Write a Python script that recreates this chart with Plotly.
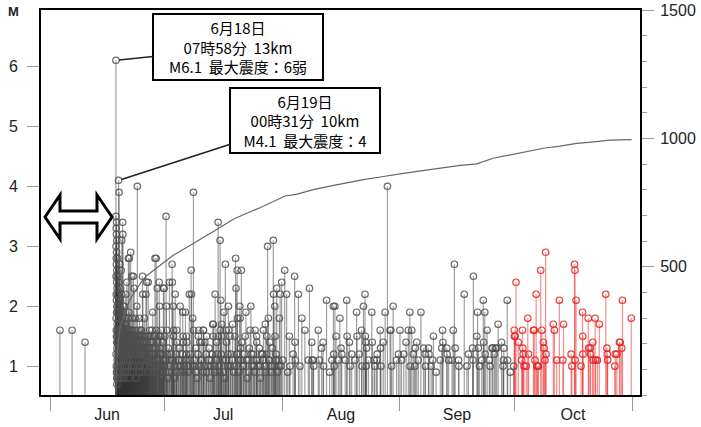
import pandas as pd
import plotly.graph_objects as go

# ---------------- data (days since 2018-06-01 00:00, magnitude) ----------------
BASE_DATE = pd.Timestamp("2018-06-01")

pre_events = [(2.6, 1.6), (5.8, 1.6), (9.2, 1.4)]
main_events = [(17.33, 6.1), (18.02, 4.1)]

jun_first_day = [
    (17.35, 3.5), (17.36, 3.0), (17.37, 2.5), (17.38, 1.8), (17.39, 1.2), (17.40, 3.3),
    (17.41, 2.8), (17.42, 2.2), (17.43, 1.6), (17.44, 1.0), (17.45, 3.2), (17.46, 2.7),
    (17.47, 2.1), (17.48, 1.5), (17.49, 0.9), (17.50, 3.4), (17.51, 2.9), (17.52, 2.4),
    (17.53, 1.9), (17.54, 1.4), (17.55, 0.8), (17.56, 3.1), (17.57, 2.6), (17.58, 2.0),
    (17.59, 1.3), (17.60, 0.7), (17.62, 2.3), (17.64, 1.7), (17.66, 1.1), (17.68, 0.9),
    (17.70, 2.5), (17.72, 1.9), (17.74, 1.4), (17.76, 1.0), (17.78, 0.8), (17.80, 2.8),
    (17.82, 2.2), (17.84, 1.6), (17.86, 1.2), (17.88, 0.9), (17.90, 2.0), (17.92, 1.5),
    (17.94, 1.1), (17.96, 0.8), (17.98, 1.8), (18.00, 1.3), (18.04, 1.0), (18.06, 2.4),
    (18.08, 1.7), (18.10, 1.2), (18.13, 0.9), (18.16, 3.9), (18.20, 2.1), (18.24, 1.5),
    (18.28, 1.1), (18.32, 0.8), (18.36, 2.7), (18.40, 1.9), (18.45, 1.3), (18.50, 1.0),
    (18.55, 2.3),
]

jun_events = [
    (18.30, 1.8), (18.34, 1.2), (18.38, 2.0), (18.42, 0.9), (18.46, 1.6), (18.50, 1.4),
    (18.54, 2.1), (18.58, 1.1), (18.62, 1.7), (18.66, 1.3), (18.70, 1.9), (18.74, 0.8),
    (18.78, 1.5), (18.82, 2.2), (18.86, 1.2), (18.90, 1.6), (18.94, 1.0), (18.98, 1.8),
    (19.02, 1.3), (19.06, 1.5), (19.10, 0.9), (19.14, 1.7), (19.18, 1.1), (19.22, 1.9),
    (19.26, 1.4), (19.30, 1.2), (19.34, 1.6), (19.38, 0.8), (19.42, 1.5), (19.46, 1.8),
    (19.50, 1.1), (19.54, 1.3), (19.58, 2.0), (19.62, 1.0), (19.66, 1.6), (19.70, 1.4),
    (19.74, 1.2), (19.78, 1.7), (19.82, 0.9), (19.86, 1.5), (19.90, 1.3), (19.94, 1.1),
    (19.98, 1.6), (20.05, 1.4), (20.10, 1.0), (20.15, 1.7), (20.20, 1.2), (20.25, 1.5),
    (20.30, 0.9), (20.35, 1.3), (20.40, 1.6), (20.45, 1.1), (20.50, 1.4), (20.55, 1.8),
    (20.60, 1.0), (20.65, 1.5), (20.70, 1.2), (20.75, 1.6), (20.80, 0.8), (20.90, 1.4),
    (20.95, 1.1), (21.05, 1.5), (21.10, 1.3), (21.15, 0.9), (21.25, 1.6), (21.30, 1.2),
    (21.40, 1.4), (21.45, 1.0), (21.55, 1.5), (21.60, 1.3), (21.70, 1.1), (21.75, 1.6),
    (21.85, 0.9), (21.95, 1.4), (22.05, 1.2), (22.15, 1.5), (22.25, 1.0), (22.30, 1.6),
    (22.45, 1.3), (22.50, 1.1), (22.55, 1.5), (22.65, 0.8), (22.70, 1.4), (22.85, 1.2),
    (22.90, 1.5), (23.00, 1.0), (23.15, 1.6), (23.20, 1.3), (23.35, 0.9), (23.40, 1.5),
    (23.55, 1.2), (23.60, 1.4), (23.75, 1.0), (23.80, 1.6), (23.95, 1.3), (24.00, 1.1),
    (24.20, 1.5), (24.25, 0.9), (24.45, 1.4), (24.50, 1.2), (24.70, 1.5), (24.75, 1.1),
    (24.90, 1.3), (25.10, 1.0), (25.15, 1.5), (25.30, 1.2), (25.50, 1.4), (25.55, 0.9),
    (25.70, 1.3), (25.90, 1.5), (25.95, 1.1), (26.10, 1.3), (26.30, 1.0), (26.50, 1.5),
    (26.70, 1.1), (26.90, 1.3), (27.10, 1.4), (27.30, 0.9), (27.50, 1.2), (27.70, 1.5),
    (28.10, 1.1), (28.30, 1.4), (28.50, 1.0), (28.90, 1.3), (29.10, 1.5), (29.30, 0.8),
    (29.50, 1.2), (29.70, 1.1),
    (18.70, 2.6), (18.85, 3.1), (19.00, 1.4), (19.10, 3.4), (19.15, 3.2), (19.30, 2.0),
    (19.50, 1.7), (19.70, 1.2), (19.90, 2.2), (20.00, 1.5), (20.20, 2.4), (20.40, 1.1),
    (20.60, 2.8), (20.75, 1.9), (20.85, 2.8), (21.00, 1.3), (21.20, 2.9), (21.35, 1.6),
    (21.50, 2.5), (21.65, 1.8), (21.80, 1.2), (21.90, 2.5), (22.00, 1.0), (22.10, 2.3),
    (22.20, 1.5), (22.40, 1.8), (22.60, 1.3), (22.80, 2.0), (22.95, 4.0), (23.10, 1.4),
    (23.30, 1.1), (23.50, 1.8), (23.70, 1.5), (23.90, 1.2), (24.10, 1.6), (24.30, 2.5),
    (24.40, 2.2), (24.60, 1.0), (24.80, 1.8), (25.00, 1.3), (25.20, 2.2), (25.40, 2.4),
    (25.60, 1.5), (25.80, 2.4), (26.00, 1.1), (26.20, 1.6), (26.40, 1.4), (26.60, 1.2),
    (26.80, 1.6), (27.00, 1.9), (27.20, 1.0), (27.40, 1.5), (27.60, 2.8), (27.80, 1.3),
    (27.90, 2.8), (28.00, 1.6), (28.20, 2.3), (28.40, 1.1), (28.60, 1.5), (28.70, 2.4),
    (28.80, 2.0), (29.00, 1.2), (29.20, 1.6), (29.40, 1.0), (29.60, 1.4), (29.80, 2.3),
    (29.90, 1.1),
]

# dense small aftershocks forming the dark mass near the bottom (read as the filled band)
jun_small_events = [
    (17.62, 1.5), (17.75, 1.6), (17.85, 1.4), (17.95, 1.5), (18.05, 1.6), (18.15, 1.4),
    (18.25, 1.5), (18.35, 1.6), (18.44, 1.4), (18.52, 1.5), (18.60, 1.2), (18.68, 1.6),
    (18.76, 1.3), (18.84, 1.5), (18.92, 1.4), (19.00, 1.2), (19.08, 1.6), (19.16, 1.3),
    (19.24, 1.5), (19.32, 1.4), (19.40, 1.2), (19.48, 1.5), (19.56, 1.6), (19.64, 1.3),
    (19.72, 1.5), (19.80, 1.4), (19.88, 1.2), (19.96, 1.5), (20.08, 1.3), (20.18, 1.6),
    (20.28, 1.4), (20.38, 1.5), (20.48, 1.2), (20.58, 1.4), (20.68, 1.5), (20.78, 1.3),
    (20.88, 1.5), (20.98, 1.4), (21.08, 1.2), (21.20, 1.5), (21.35, 1.3), (21.48, 1.5),
    (21.62, 1.4), (21.78, 1.2), (21.90, 1.5), (22.02, 1.3), (22.20, 1.4), (22.35, 1.5),
    (22.60, 1.2), (22.75, 1.4), (23.05, 1.3), (23.25, 1.5), (23.48, 1.2), (23.68, 1.4),
    (23.88, 1.3), (24.10, 1.2), (24.35, 1.4), (24.60, 1.3), (24.85, 1.2), (25.05, 1.4),
    (25.40, 1.1), (25.80, 1.3), (26.20, 1.2), (26.60, 1.0), (27.00, 1.2), (27.40, 1.1),
    (27.90, 1.0), (28.70, 1.2), (29.20, 1.0), (29.80, 0.9),
]

jul_events = [
    (30.0, 2.3), (30.2, 1.5), (30.4, 1.1), (30.5, 3.5), (30.6, 2.0), (30.7, 1.6), (30.9, 0.8),
    (31.1, 1.3), (31.4, 2.4), (31.6, 1.0), (31.8, 1.2), (32.0, 0.9), (32.1, 2.7), (32.15, 2.4),
    (32.3, 1.1), (32.4, 2.0), (32.45, 1.5), (32.5, 1.6), (32.7, 0.8), (32.9, 2.2), (33.1, 1.2),
    (33.3, 1.6), (33.35, 1.4), (33.6, 1.0), (33.9, 1.3), (34.2, 2.0), (34.4, 0.9), (34.6, 1.1),
    (34.9, 1.9), (35.0, 1.5), (35.05, 1.4), (35.3, 1.0), (35.6, 1.9), (35.8, 1.2), (35.9, 1.5),
    (36.0, 1.4), (36.3, 0.9), (36.6, 2.2), (36.8, 1.1), (37.1, 2.6), (37.2, 2.2), (37.5, 1.8),
    (37.7, 3.9), (37.75, 1.6), (38.0, 1.0), (38.3, 1.3), (38.6, 0.8), (39.0, 1.5), (39.1, 1.6),
    (39.4, 1.4), (39.7, 1.1), (39.9, 1.4), (40.2, 0.9), (40.3, 1.6), (40.35, 1.6), (40.7, 1.4),
    (41.0, 1.2), (41.2, 1.5), (41.5, 1.0), (41.8, 1.3), (42.1, 0.8), (42.4, 1.1), (42.8, 1.7),
    (42.9, 1.5), (42.95, 1.7), (43.2, 1.0), (43.4, 2.2), (43.8, 1.4), (44.0, 1.2), (44.2, 3.4),
    (44.25, 1.5), (44.5, 0.9), (44.7, 3.1), (44.75, 1.6), (44.9, 2.1), (45.1, 1.5), (45.15, 1.7),
    (45.4, 1.1), (45.7, 1.9), (45.9, 0.8), (46.1, 2.7), (46.3, 1.6), (46.4, 1.4), (46.7, 1.0),
    (46.9, 2.0), (46.95, 1.6), (47.3, 1.5), (47.6, 1.2), (48.0, 1.7), (48.3, 0.9), (48.6, 1.5),
    (48.8, 2.8), (48.9, 2.3), (49.2, 2.6), (49.25, 1.8), (49.5, 1.1), (49.9, 2.0), (49.95, 1.8),
    (50.1, 1.3), (50.3, 2.6), (50.4, 1.4), (50.7, 1.0), (51.0, 1.2), (51.3, 1.5), (51.5, 1.9),
    (51.8, 0.8), (52.1, 1.1), (52.4, 1.3), (52.6, 1.6), (52.8, 2.0), (53.1, 1.0), (53.4, 1.2),
    (53.7, 0.9), (53.9, 1.6), (54.2, 1.1), (54.3, 1.5), (54.35, 1.4), (54.7, 1.0), (55.0, 1.3),
    (55.3, 0.8), (55.6, 1.2), (56.0, 1.1), (56.1, 1.6), (56.4, 1.0), (56.6, 1.7), (56.9, 1.2),
    (57.0, 1.5), (57.2, 3.0), (57.4, 1.8), (57.6, 1.1), (57.8, 1.4), (58.1, 0.9), (58.4, 1.3),
    (58.7, 3.1), (58.75, 2.2), (59.0, 1.0), (59.1, 2.0), (59.15, 1.5), (59.4, 1.2), (59.6, 2.3),
    (59.8, 0.9), (60.0, 1.1), (60.3, 1.8), (60.5, 2.2), (60.7, 1.0), (60.9, 2.4),
]

jul_small_events = [
    (30.1, 1.0), (30.8, 1.2), (31.3, 0.9), (31.9, 1.1), (32.6, 1.0), (33.2, 0.9), (33.8, 1.1),
    (34.3, 1.0), (34.8, 1.2), (35.4, 0.9), (35.7, 1.1), (36.2, 1.0), (36.9, 1.2), (37.4, 1.0),
    (37.9, 1.1), (38.4, 0.9), (38.9, 1.2), (39.3, 1.0), (39.8, 1.1), (40.5, 1.0), (41.1, 0.9),
    (41.7, 1.1), (42.3, 1.0), (42.7, 1.2), (43.3, 0.9), (43.7, 1.1), (44.4, 1.0), (45.0, 1.2),
    (45.6, 0.9), (46.2, 1.1), (46.8, 1.2), (47.4, 1.0), (47.9, 1.1), (48.5, 1.0), (49.1, 1.2),
    (49.7, 0.9), (50.2, 1.1), (50.9, 1.0), (51.6, 1.1), (52.3, 0.9), (52.9, 1.2), (53.6, 1.0),
    (54.5, 1.1), (55.2, 1.0), (55.9, 1.2), (56.7, 0.9), (57.5, 1.1), (58.3, 1.0), (59.3, 1.1),
    (60.2, 1.0),
]

aug_events = [
    (61.2, 1.1), (61.7, 2.6), (62.2, 2.2), (62.5, 0.9), (62.9, 1.5), (63.1, 1.0), (63.9, 1.2),
    (64.3, 2.5), (64.4, 1.4), (64.5, 1.1), (65.3, 2.2), (65.7, 1.0), (66.2, 1.8), (67.0, 1.6),
    (67.9, 1.1), (68.2, 2.3), (68.8, 1.4), (68.9, 1.1), (69.2, 1.1), (69.3, 1.0), (70.5, 1.6),
    (70.8, 1.1), (71.4, 1.3), (71.8, 1.4), (71.9, 1.0), (72.7, 2.1), (73.5, 0.9), (74.1, 1.1),
    (74.5, 2.0), (74.6, 1.2), (74.7, 1.0), (74.9, 2.0), (75.2, 1.5), (75.8, 1.1), (76.2, 1.8),
    (76.5, 1.3), (76.7, 1.2), (77.6, 1.1), (78.0, 2.1), (78.1, 1.5), (78.7, 1.4), (78.9, 1.0),
    (79.3, 1.2), (80.2, 1.1), (80.6, 1.9), (80.7, 1.5), (81.3, 1.2), (81.9, 1.6), (82.0, 1.0),
    (82.4, 2.0), (82.8, 2.2), (82.9, 1.5), (83.0, 1.4), (83.1, 1.0), (83.2, 1.3), (83.7, 1.1),
    (84.6, 1.9), (84.7, 1.4), (85.2, 1.1), (85.4, 1.0), (85.9, 1.1), (86.0, 1.2), (86.8, 1.6),
    (86.9, 1.3), (87.0, 1.0), (87.6, 1.4), (88.1, 1.9), (88.7, 4.0), (89.4, 1.6), (89.6, 1.6),
    (89.8, 1.0), (90.2, 2.0), (91.1, 1.1), (91.6, 1.2),
]

sep_events = [
    (92.0, 1.6), (92.4, 1.1), (93.0, 1.2), (93.6, 1.4), (94.2, 1.6), (94.6, 1.9), (94.7, 1.0),
    (95.1, 1.6), (95.5, 1.2), (95.9, 1.0), (96.0, 1.3), (96.4, 1.4), (96.8, 1.1), (97.5, 1.9),
    (98.2, 1.3), (98.6, 1.2), (98.7, 1.0), (99.5, 1.3), (99.6, 1.2), (100.2, 1.0), (100.6, 1.1),
    (100.8, 1.5), (101.5, 0.9), (102.6, 1.1), (103.0, 1.3), (103.2, 1.6), (103.3, 1.4),
    (104.3, 1.3), (104.4, 1.2), (104.8, 1.1), (105.7, 1.1), (106.0, 1.6), (106.3, 2.7),
    (106.5, 1.3), (107.4, 1.1), (107.5, 1.0), (108.9, 2.2), (109.6, 1.0), (110.0, 1.2),
    (111.1, 1.3), (111.2, 1.1), (111.3, 2.5), (112.2, 1.5), (112.4, 1.9), (112.6, 1.3),
    (112.9, 1.0), (113.5, 1.1), (113.9, 2.1), (114.0, 1.4), (114.3, 1.9), (114.4, 1.2),
    (114.9, 1.6), (115.5, 1.1), (115.7, 1.0), (116.2, 1.3), (116.4, 1.3), (116.8, 1.2),
    (117.1, 1.3), (117.4, 1.3), (117.8, 1.7), (118.7, 1.4), (119.1, 1.0), (119.2, 1.1),
    (119.3, 1.3), (120.2, 2.1), (120.3, 1.1), (121.0, 0.9), (121.9, 1.0),
]

oct_events = [
    (122.05, 1.6), (122.1, 1.5), (122.3, 1.5), (122.5, 2.4), (123.1, 1.4), (124.0, 1.1),
    (124.2, 1.6), (124.3, 1.3), (124.4, 1.2), (124.6, 1.0), (125.2, 1.0), (125.6, 1.8),
    (125.8, 1.2), (127.1, 1.6), (127.3, 1.6), (127.5, 1.1), (127.8, 2.2), (128.0, 1.0),
    (128.2, 1.0), (128.4, 1.0), (129.0, 2.6), (129.3, 1.6), (129.7, 1.4), (129.9, 1.3),
    (130.1, 1.1), (130.3, 2.9), (130.4, 1.2), (132.3, 1.7), (132.6, 1.6), (133.2, 1.1),
    (133.9, 2.1), (134.8, 1.1), (135.0, 1.7), (137.0, 1.2), (137.2, 1.0), (137.9, 2.7),
    (138.0, 2.6), (138.05, 1.1), (138.3, 2.1), (139.6, 1.0), (140.0, 1.9), (140.05, 1.5),
    (140.1, 1.2), (141.5, 1.8), (141.6, 1.3), (142.0, 1.3), (142.1, 1.2), (142.7, 1.4),
    (142.8, 1.1), (143.3, 1.8), (143.4, 1.1), (143.9, 1.1), (144.4, 1.7), (146.1, 2.2),
    (146.4, 1.3), (146.5, 1.2), (146.6, 1.1), (148.5, 1.0), (148.6, 1.2), (149.0, 1.2),
    (149.7, 1.4), (149.9, 1.4), (150.3, 1.3), (150.5, 2.1), (152.8, 1.8),
]

cum_days = [17.33, 17.40, 17.5, 17.7, 18.0, 18.4, 19.3, 20.2, 21.5, 22.8, 24.2, 25.4, 27.0,
            28.9, 30.7, 32.4, 35.9, 39.4, 43.8, 48.2, 50.8, 55.2, 59.6, 61.8, 64.8, 69.2,
            73.6, 78.0, 82.4, 86.8, 93.3, 107.8, 112.2, 116.5, 120.9, 125.3, 129.7, 134.1,
            138.5, 142.9, 147.2, 152.9]
cum_counts = [3, 60, 110, 170, 215, 260, 310, 345, 385, 415, 445, 465, 485,
              505, 525, 545, 575, 605, 645, 685, 703, 730, 760, 776, 782, 801,
              814, 827, 840, 850, 865, 895, 901, 923, 936, 949, 962, 970,
              981, 987, 994, 996]

m_ticks = [1, 2, 3, 4, 5, 6]
count_ticks = [500, 1000, 1500]
month_labels = ["Jun", "Jul", "Aug", "Sep", "Oct"]
month_label_pos = ["2018-06-16", "2018-07-16 12:00", "2018-08-16 12:00", "2018-09-16", "2018-10-16 12:00"]

M_RANGE = [0.52, 6.94]
COUNT_RANGE = [0, 1501]
X_RANGE = ["2018-05-29 15:00", "2018-11-03 02:30"]

# ---------------- figure geometry ----------------
W, H = 701, 427
ML, MR, MT, MB = 41, 61, 10, 32
PW, PH = W - ML - MR, H - MT - MB


def to_date(d):
    return BASE_DATE + pd.Timedelta(days=d)


def stems(events):
    xs, ys = [], []
    for d, m in events:
        t = to_date(d)
        xs += [t, t, None]
        ys += [M_RANGE[0] - 0.1, m, None]
    return xs, ys


def tops(events):
    return [to_date(d) for d, _ in events], [m for _, m in events]


gray_events = (pre_events + main_events + jun_first_day + jun_events + jun_small_events
               + jul_events + jul_small_events + aug_events + sep_events)
red_events = oct_events

fig = go.Figure()

gx, gy = stems(gray_events)
fig.add_trace(go.Scatter(x=gx, y=gy, mode="lines", line=dict(color="rgba(55,55,55,0.48)", width=1.2),
                         hoverinfo="skip", showlegend=False))
rx, ry = stems(red_events)
fig.add_trace(go.Scatter(x=rx, y=ry, mode="lines", line=dict(color="rgba(235,30,30,0.5)", width=1.2),
                         hoverinfo="skip", showlegend=False))
tx, ty = tops(gray_events)
fig.add_trace(go.Scatter(x=tx, y=ty, mode="markers",
                         marker=dict(symbol="circle-open", size=6.5, color="rgba(80,80,80,0.85)",
                                     line=dict(width=1.2)), showlegend=False))
tx, ty = tops(red_events)
fig.add_trace(go.Scatter(x=tx, y=ty, mode="markers",
                         marker=dict(symbol="circle-open", size=6.5, color="rgba(230,40,40,0.9)",
                                     line=dict(width=1.2)), showlegend=False))

fig.add_trace(go.Scatter(x=[to_date(d) for d in cum_days], y=cum_counts, yaxis="y2", mode="lines",
                         line=dict(color="#666666", width=1.2), showlegend=False))

TICK_FONT = dict(family="Liberation Sans, Arial, sans-serif", size=16, color="#222222")

fig.update_layout(
    width=W, height=H,
    margin=dict(l=ML, r=MR, t=MT, b=MB, pad=0, autoexpand=False),
    paper_bgcolor="white", plot_bgcolor="white",
    showlegend=False,
    xaxis=dict(
        type="date", range=X_RANGE, showgrid=False, zeroline=False, automargin=False,
        showline=True, linecolor="black", linewidth=2, mirror=True,
        tickmode="array", tickvals=month_label_pos, ticktext=month_labels,
        ticks="", tickfont=TICK_FONT, ticklabelstandoff=4,
        minor=dict(ticks="outside", ticklen=14, tickwidth=1, tickcolor="#9a9a9a",
                   tick0="2018-06-01", dtick="M1", showgrid=False),
    ),
    yaxis=dict(
        range=M_RANGE, showgrid=False, zeroline=False, automargin=False,
        showline=True, linecolor="black", linewidth=2, mirror=True,
        tickmode="array", tickvals=m_ticks, ticks="outside", ticklen=12, tickwidth=1,
        tickcolor="#9a9a9a", tickfont=TICK_FONT, ticklabelstandoff=6,
    ),
    yaxis2=dict(
        range=COUNT_RANGE, overlaying="y", side="right", showgrid=False, zeroline=False,
        automargin=False, ticklabeloverflow="allow",
        showline=True, linecolor="black", linewidth=2,
        tickmode="array", tickvals=count_ticks, ticks="outside", ticklen=12, tickwidth=1,
        tickcolor="#9a9a9a", tickfont=TICK_FONT, ticklabelstandoff=3,
        minor=dict(ticks="outside", ticklen=5, tickwidth=1, tickcolor="#9a9a9a", dtick=100,
                   tick0=0, showgrid=False),
    ),
)

# "M" axis label
fig.add_annotation(text="<b>M</b>", xref="paper", yref="paper", x=(13 - ML) / PW, y=1 - (11 - MT) / PH,
                   showarrow=False, font=dict(family="Liberation Sans, Arial", size=13, color="#222"),
                   xanchor="center", yanchor="middle")

CJK = dict(family="Noto Sans CJK JP", size=15, color="black")
(ms_day, ms_mag), (as_day, as_mag) = main_events
fig.add_annotation(x=to_date(ms_day), y=ms_mag, xref="x", yref="y",
                   text="6月18日<br>07時58分  13km<br>M6.1  最大震度：6弱",
                   showarrow=True, arrowhead=0, arrowwidth=1.6, arrowcolor="#222", standoff=3,
                   ax=122, ay=-13, font=CJK, align="center",
                   bgcolor="white", bordercolor="black", borderwidth=2, borderpad=2,
                   width=164, height=60)
fig.add_annotation(x=to_date(as_day), y=as_mag, xref="x", yref="y",
                   text="6月19日<br>00時31分  10km<br>M4.1  最大震度：4",
                   showarrow=True, arrowhead=0, arrowwidth=1.6, arrowcolor="#222", standoff=3,
                   ax=186, ay=-60, font=CJK, align="center",
                   bgcolor="white", bordercolor="black", borderwidth=2, borderpad=2,
                   width=144, height=59)

# hollow double-headed arrow (decoration), defined in pixel space
arrow_px = [(45, 217), (60, 195), (60, 211), (97, 211), (97, 195), (112, 217),
            (97, 239), (97, 223), (60, 223), (60, 239)]


def px_to_paper(x, y):
    return (x - ML) / PW, 1 - (y - MT) / PH


pts = [px_to_paper(x, y) for x, y in arrow_px]
path = "M " + " L ".join(f"{x:.5f},{y:.5f}" for x, y in pts) + " Z"
fig.add_shape(type="path", path=path, xref="paper", yref="paper",
              line=dict(color="black", width=3), fillcolor="white", layer="above")

fig.write_html("out.html", config={"displayModeBar": False},
               post_script="document.body.style.margin='0';")
